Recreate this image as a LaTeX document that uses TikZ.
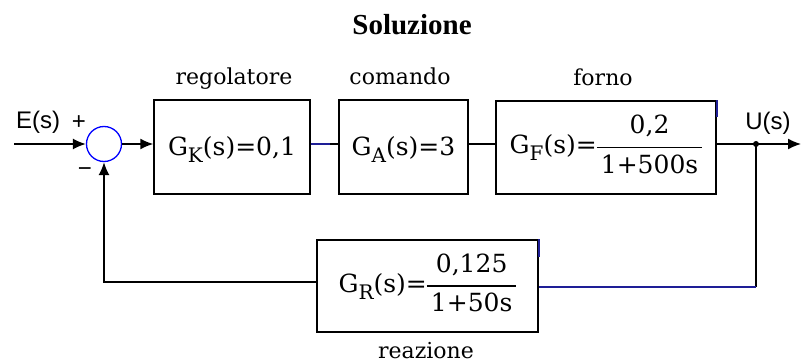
\documentclass[tikz,border=0pt]{standalone}
\usepackage{fontspec}
\setmainfont{Liberation Serif}
\newfontfamily\sansf{Liberation Sans}
\newfontfamily\blockf{DejaVu Serif}
\usetikzlibrary{arrows.meta}
\definecolor{darknavy}{RGB}{30,30,150}
\newcommand{\sbs}[1]{\raisebox{-7pt}{\fontsize{20}{24}\selectfont #1}}
\newcommand{\frc}[2]{$\vcenter{\hbox{\setlength{\arrayrulewidth}{1.4pt}\begin{tabular}{@{\hspace{4pt}}c@{\hspace{4pt}}}\rule[-13pt]{0pt}{20pt}#1\\ \hline \rule[-6pt]{0pt}{31pt}#2\end{tabular}}}$}
\tikzset{
  blockbox/.style={draw, line width=1.5pt, inner sep=0pt, font=\blockf\fontsize{25}{30}\selectfont},
  lbl/.style={font=\blockf\fontsize{22}{26}\selectfont, anchor=base},
  sig/.style={font=\sansf\fontsize{24}{28}\selectfont, anchor=base},
  wire/.style={line width=1.5pt},
  arr/.style={wire, -{Latex[length=13pt,width=11pt]}}
}
\begin{document}
\begin{tikzpicture}[x=1pt,y=-1pt]
\useasboundingbox[fill=white] (0,0) rectangle (802,363);
\node[font=\bfseries\fontsize{29}{34}\selectfont, anchor=base] (title) at (412,35) {Soluzione};
\node[circle, draw=blue, line width=1.3pt, minimum size=35pt, inner sep=0pt] (sum) at (104,144) {};
\node[blockbox, minimum width=156pt, minimum height=94pt, text height=18pt, text depth=0pt] (GK) at (232,147) {G\sbs{K}(s)=0,1};
\node[blockbox, minimum width=129pt, minimum height=94pt, text height=18pt, text depth=0pt] (GA) at (403.5,147) {G\sbs{A}(s)=3};
\node[blockbox, minimum width=220pt, minimum height=93pt] (GF) at (606,147.5) {G\sbs{F}(s)=\frc{0,2}{1+500s}};
\node[blockbox, minimum width=221pt, minimum height=92pt] (GR) at (427.5,286) {G\sbs{R}(s)=\frc{0,125}{1+50s}};
\node[lbl] (lreg) at (234,85) {regolatore};
\node[lbl] (lcom) at (400,85) {comando};
\node[lbl] (lfor) at (603,86) {forno};
\node[lbl] (lrea) at (426,358) {reazione};
\node[sig] (lE) at (38,129) {E(s)};
\node[sig] (lplus) at (79,130) {+};
\node[sig] (lminus) at (85,177) {−};
\node[sig] (lU) at (768,130) {U(s)};
\coordinate (in) at (14,144);
\coordinate (out) at (801,144);
\coordinate (br) at (756,144);
\coordinate (brdown) at (756,287);
\coordinate (lnk) at (330,144);
\draw[arr] (in) -- (sum.west);
\draw[arr] (sum.east) -- (GK.west |- lnk);
\draw[wire, darknavy] (GK.east |- lnk) -- (lnk);
\draw[wire] (lnk) -- (GA.west |- lnk);
\draw[wire] (GA.east |- lnk) -- (GF.west |- lnk);
\draw[arr] (GF.east |- lnk) -- (out);
\fill (br) circle (3pt);
\draw[wire] (br) -- (brdown);
\draw[wire, darknavy] (brdown) -- (GR.east |- brdown);
\draw[arr] ([yshift=4pt]GR.west) -| (sum.south);
\draw[wire, darknavy] (GF.north east) -- ++(0,17);
\draw[wire, darknavy] (GR.north east) -- ++(0,18);
\end{tikzpicture}
\end{document}
